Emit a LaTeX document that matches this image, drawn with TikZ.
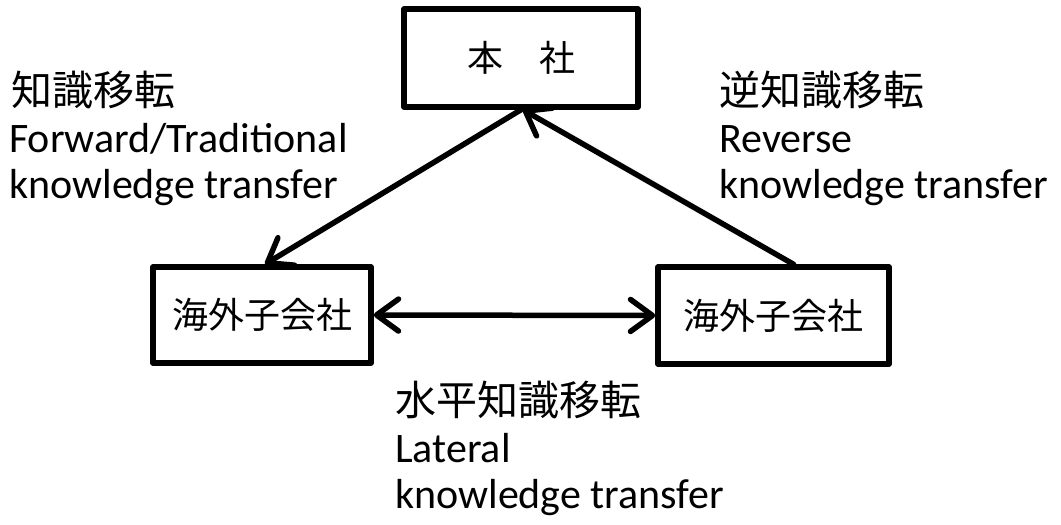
\documentclass[tikz,border=0pt]{standalone}
\usepackage{fontspec}
\setmainfont{Carlito}
\newfontfamily\jp{Noto Sans CJK JP}
\usetikzlibrary{arrows.meta}
\begin{document}
\begin{tikzpicture}[x=1pt,y=-1pt,
  barb/.tip={Straight Barb[length=22pt,width=32pt,line cap=round,line join=round]},
  box/.style={draw,line width=5.5pt,line join=round,inner sep=0pt,font=\jp\fontsize{36}{40}\selectfont},
  flow/.style={line width=5.5pt,line cap=round},
  lbl/.style={anchor=base west,inner sep=0pt,font=\fontsize{42}{46}\selectfont},
  jlbl/.style={anchor=base west,inner sep=0pt,font=\jp\fontsize{41}{44}\selectfont}]
\useasboundingbox (0,0) rectangle (1061,525);

% organisation boxes
\node[box,minimum width=234pt,minimum height=98pt] (hq) at (521,58) {本　社};
\node[box,minimum width=218pt,minimum height=96pt] (subA) at (262,315) {海外子会社};
\node[box,minimum width=231pt,minimum height=97pt] (subB) at (773.5,315.5) {海外子会社};

% transfers between them
\draw[flow,-barb] (hq.south) -- ([xshift=3pt]subA.north);
\draw[flow,-barb] ([xshift=20pt]subB.north) -- ([xshift=2pt]hq.south);
\draw[flow,barb-barb] (subA.east) -- (subB.west);

% forward transfer label
\node[jlbl] (fwdJ) at (11,105) {知識移転};
\node[lbl] (fwdA) at (9,152) {Forward/Traditional};
\node[lbl] (fwdB) at (9,198) {knowledge transfer};

% reverse transfer label
\node[jlbl] (revJ) at (719,105) {逆知識移転};
\node[lbl] (revA) at (719,152) {Reverse};
\node[lbl] (revB) at (719,198) {knowledge transfer};

% lateral transfer label
\node[jlbl] (latJ) at (395,415) {水平知識移転};
\node[lbl] (latA) at (395,462) {Lateral};
\node[lbl] (latB) at (395,508) {knowledge transfer};
\end{tikzpicture}
\end{document}
